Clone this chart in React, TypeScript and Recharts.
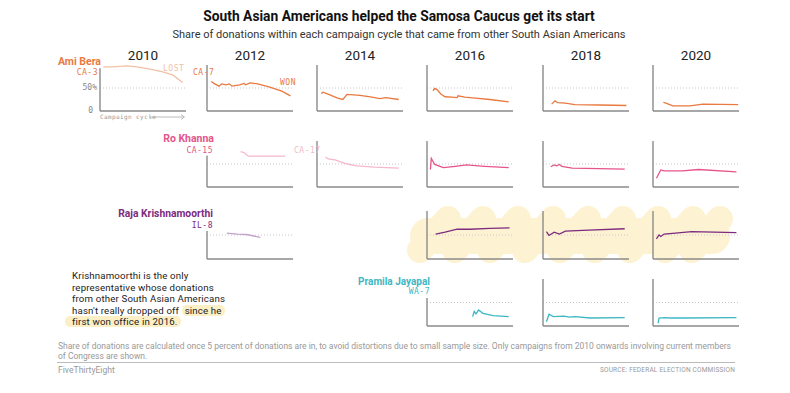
// Small multiples: share of donations from other South Asian Americans
// One tiny Recharts LineChart per campaign cycle, laid out absolutely

import React from "react";
import { LineChart, Line, XAxis, YAxis, ReferenceLine } from "recharts";

type Pt = { t: number; v: number };

const CYCLES = ["2010", "2012", "2014", "2016", "2018", "2020"];

// t = share of the campaign cycle elapsed, v = % of donations
const bera2010: Pt[] = [
  { t: 0.04, v: 96 }, { t: 0.15, v: 96 }, { t: 0.31, v: 98 }, { t: 0.43, v: 96 },
  { t: 0.58, v: 91 }, { t: 0.73, v: 85 }, { t: 0.85, v: 78 }, { t: 0.96, v: 62 },
];
const bera2012: Pt[] = [
  { t: 0.05, v: 64 }, { t: 0.09, v: 59 }, { t: 0.14, v: 54 }, { t: 0.17, v: 59 },
  { t: 0.22, v: 57 }, { t: 0.26, v: 59 }, { t: 0.29, v: 54 }, { t: 0.38, v: 57 },
  { t: 0.43, v: 60 }, { t: 0.45, v: 57 }, { t: 0.5, v: 61 }, { t: 0.59, v: 59 },
  { t: 0.73, v: 52 }, { t: 0.87, v: 43 }, { t: 0.97, v: 33 },
];
const bera2014: Pt[] = [
  { t: 0.05, v: 38 }, { t: 0.07, v: 41 }, { t: 0.15, v: 35 }, { t: 0.24, v: 28 },
  { t: 0.3, v: 25 }, { t: 0.35, v: 36 }, { t: 0.5, v: 34 }, { t: 0.64, v: 30 },
  { t: 0.73, v: 27 }, { t: 0.8, v: 29 }, { t: 0.95, v: 25 },
];
const bera2016: Pt[] = [
  { t: 0.07, v: 44 }, { t: 0.09, v: 49 }, { t: 0.12, v: 46 }, { t: 0.16, v: 37 },
  { t: 0.21, v: 31 }, { t: 0.29, v: 30 }, { t: 0.35, v: 29 }, { t: 0.36, v: 33 },
  { t: 0.44, v: 30 }, { t: 0.56, v: 28 }, { t: 0.73, v: 25 }, { t: 0.95, v: 20 },
];
const bera2018: Pt[] = [
  { t: 0.1, v: 15 }, { t: 0.14, v: 22 }, { t: 0.17, v: 18 }, { t: 0.26, v: 17 },
  { t: 0.37, v: 14 }, { t: 0.66, v: 13 }, { t: 0.97, v: 12 },
];
const bera2020: Pt[] = [
  { t: 0.12, v: 19 }, { t: 0.15, v: 17 }, { t: 0.23, v: 11 }, { t: 0.43, v: 11 },
  { t: 0.58, v: 15 }, { t: 0.99, v: 14 },
];

const khanna2012: Pt[] = [
  { t: 0.39, v: 77 }, { t: 0.43, v: 75 }, { t: 0.48, v: 67 }, { t: 0.91, v: 67 },
];
const khanna2014: Pt[] = [
  { t: 0.1, v: 65 }, { t: 0.13, v: 61 }, { t: 0.21, v: 59 }, { t: 0.35, v: 50 },
  { t: 0.46, v: 46 }, { t: 0.67, v: 43 }, { t: 0.95, v: 41 },
];
const khanna2016: Pt[] = [
  { t: 0.04, v: 38 }, { t: 0.05, v: 62 }, { t: 0.09, v: 49 }, { t: 0.19, v: 42 },
  { t: 0.33, v: 45 }, { t: 0.46, v: 48 }, { t: 0.67, v: 45 }, { t: 0.95, v: 42 },
];
const khanna2018: Pt[] = [
  { t: 0.09, v: 44 }, { t: 0.13, v: 48 }, { t: 0.16, v: 46 }, { t: 0.19, v: 49 },
  { t: 0.22, v: 45 }, { t: 0.34, v: 41 }, { t: 0.65, v: 40 }, { t: 0.95, v: 39 },
];
const khanna2020: Pt[] = [
  { t: 0.04, v: 19 }, { t: 0.09, v: 37 }, { t: 0.13, v: 35 }, { t: 0.34, v: 35 },
  { t: 0.53, v: 38 }, { t: 0.97, v: 33 },
];

const raja2012: Pt[] = [
  { t: 0.23, v: 54 }, { t: 0.35, v: 52 }, { t: 0.46, v: 51 }, { t: 0.62, v: 45 },
];
const raja2016: Pt[] = [
  { t: 0.1, v: 52 }, { t: 0.21, v: 56 }, { t: 0.35, v: 62 }, { t: 0.5, v: 62 },
  { t: 0.73, v: 64 }, { t: 0.96, v: 65 },
];
const raja2018: Pt[] = [
  { t: 0.04, v: 57 }, { t: 0.07, v: 49 }, { t: 0.13, v: 56 }, { t: 0.19, v: 52 },
  { t: 0.26, v: 58 }, { t: 0.53, v: 60 }, { t: 0.95, v: 63 },
];
const raja2020: Pt[] = [
  { t: 0.04, v: 42 }, { t: 0.07, v: 50 }, { t: 0.09, v: 47 }, { t: 0.13, v: 52 },
  { t: 0.26, v: 54 }, { t: 0.45, v: 57 }, { t: 0.97, v: 55 },
];

const jayapal2016: Pt[] = [
  { t: 0.53, v: 20 }, { t: 0.55, v: 31 }, { t: 0.57, v: 26 }, { t: 0.6, v: 34 },
  { t: 0.65, v: 27 }, { t: 0.77, v: 22 }, { t: 0.95, v: 20 },
];
const jayapal2018: Pt[] = [
  { t: 0.04, v: 9 }, { t: 0.07, v: 25 }, { t: 0.12, v: 20 }, { t: 0.24, v: 21 },
  { t: 0.31, v: 19 }, { t: 0.37, v: 20 }, { t: 0.55, v: 17 }, { t: 0.95, v: 18 },
];
const jayapal2020: Pt[] = [
  { t: 0.06, v: 6 }, { t: 0.07, v: 17 }, { t: 0.14, v: 18 }, { t: 0.2, v: 17 },
  { t: 0.35, v: 17 }, { t: 0.97, v: 18 },
];

const ORANGE = "#e8793f";
const ORANGE_LIGHT = "#f3c0a7";
const PINK = "#e6548a";
const PINK_LIGHT = "#f5b8cc";
const PURPLE = "#7d2a7f";
const PURPLE_LIGHT = "#c4a2cb";
const TEAL = "#3db7c3";
const AXIS = "#8a8a8a";

// layout
const COL_X = [100, 207, 317, 427, 543, 653];
const ROW_TOP = [65, 141, 211, 279];
const ROW_BOTTOM = [111, 187, 259, 326];
const PLOT_W = 86;

const panels = [
  { row: 0, col: 0, data: bera2010, color: ORANGE_LIGHT },
  { row: 0, col: 1, data: bera2012, color: ORANGE },
  { row: 0, col: 2, data: bera2014, color: ORANGE },
  { row: 0, col: 3, data: bera2016, color: ORANGE },
  { row: 0, col: 4, data: bera2018, color: ORANGE },
  { row: 0, col: 5, data: bera2020, color: ORANGE },
  { row: 1, col: 1, data: khanna2012, color: PINK_LIGHT },
  { row: 1, col: 2, data: khanna2014, color: PINK_LIGHT },
  { row: 1, col: 3, data: khanna2016, color: PINK },
  { row: 1, col: 4, data: khanna2018, color: PINK },
  { row: 1, col: 5, data: khanna2020, color: PINK },
  { row: 2, col: 1, data: raja2012, color: PURPLE_LIGHT },
  { row: 2, col: 3, data: raja2016, color: PURPLE },
  { row: 2, col: 4, data: raja2018, color: PURPLE },
  { row: 2, col: 5, data: raja2020, color: PURPLE },
  { row: 3, col: 3, data: jayapal2016, color: TEAL },
  { row: 3, col: 4, data: jayapal2018, color: TEAL },
  { row: 3, col: 5, data: jayapal2020, color: TEAL },
];

function Panel({ row, col, data, color }: { row: number; col: number; data: Pt[]; color: string }) {
  const m = { top: 2, right: 2, bottom: 2, left: 2 };
  const h = ROW_BOTTOM[row] - ROW_TOP[row];
  return (
    <div style={{ position: "absolute", left: COL_X[col] - m.left, top: ROW_TOP[row] - m.top }}>
      <LineChart width={PLOT_W + m.left + m.right} height={h + m.top + m.bottom} data={data} margin={m}>
        <XAxis type="number" dataKey="t" domain={[0, 1]} hide />
        <YAxis type="number" domain={[0, 100]} hide />
        <ReferenceLine y={50} stroke="#c8c8c8" strokeDasharray="1 2" />
        <ReferenceLine y={0} stroke={AXIS} strokeWidth={1.4} />
        <ReferenceLine x={0} stroke={AXIS} strokeWidth={1.4} />
        <Line
          dataKey="v"
          stroke={color}
          strokeWidth={1.3}
          dot={false}
          isAnimationActive={false}
        />
      </LineChart>
    </div>
  );
}

const sans = "Roboto, 'Liberation Sans', sans-serif";
const mono = "'DejaVu Sans Mono', 'Liberation Mono', monospace";

function Txt({
  x, y, children, size = 10, color = "#222", weight = 400, align = "left", font = sans, bg, ls = 0,
}: {
  x: number; y: number; children: React.ReactNode; size?: number; color?: string; weight?: number;
  align?: "left" | "right" | "center"; font?: string; bg?: string; ls?: number;
}) {
  const tx = align === "right" ? "-100%" : align === "center" ? "-50%" : "0";
  return (
    <div
      style={{
        position: "absolute", left: x, top: y, transform: `translate(${tx}, -50%)`,
        fontSize: size, color, fontWeight: weight, fontFamily: font, whiteSpace: "nowrap",
        lineHeight: 1.1, background: bg, letterSpacing: ls, padding: bg ? "0 1px" : 0,
      }}
    >
      {children}
    </div>
  );
}

// white gap above an axis where a district label sits
function Mask({ x, top, bottom }: { x: number; top: number; bottom: number }) {
  return (
    <div style={{ position: "absolute", left: x - 2, top, width: 4, height: bottom - top, background: "#fff" }} />
  );
}

const note = [
  "Krishnamoorthi is the only",
  "representative whose donations",
  "from other South Asian Americans",
];

export default function App() {
  const hl = { background: "#fcefc6", borderRadius: 5, padding: "0 3px" };
  return (
    <div style={{ position: "absolute", left: 0, top: 0, width: 790, height: 393, background: "#fff", overflow: "hidden" }}>
      {/* brush highlight behind Krishnamoorthi's winning cycles */}
      <svg width={790} height={393} style={{ position: "absolute", left: 0, top: 0 }}>
        <g stroke="#fdf3d3" strokeWidth={26} strokeLinecap="round" fill="none">
          {[420, 455, 490, 525, 560, 595, 630, 665, 692].map((x) => (
            <line key={x} x1={x} y1={250} x2={x + 28} y2={219} />
          ))}
          <line x1={428} y1={236} x2={712} y2={236} strokeWidth={36} />
        </g>
      </svg>

      <Txt x={399} y={17} size={13.8} weight={700} align="center" color="#111">
        South Asian Americans helped the Samosa Caucus get its start
      </Txt>
      <Txt x={399} y={35} size={11} align="center" color="#333">
        Share of donations within each campaign cycle that came from other South Asian Americans
      </Txt>

      {CYCLES.map((c, i) => (
        <Txt key={c} x={COL_X[i] + PLOT_W / 2} y={55} size={13.5} align="center" color="#222">
          {c}
        </Txt>
      ))}

      {panels.map((p) => (
        <Panel key={`${p.row}-${p.col}`} {...p} />
      ))}

      <Mask x={COL_X[1]} top={138} bottom={155} />
      <Mask x={COL_X[1]} top={208} bottom={231} />
      <Mask x={COL_X[3]} top={276} bottom={298} />

      {/* Ami Bera */}
      <Txt x={102} y={62} size={10.5} weight={700} color={ORANGE} align="right" bg="#fff">Ami Bera</Txt>
      <Txt x={98} y={73} size={8} font={mono} color={ORANGE} align="right" ls={0.5}>CA-3</Txt>
      <Txt x={163} y={69} size={8} font={mono} color={ORANGE_LIGHT} ls={0.5}>LOST</Txt>
      <Txt x={97} y={88} size={8} font={mono} color="#888" align="right">50%</Txt>
      <Txt x={93} y={111} size={8} font={mono} color="#888" align="right">0</Txt>
      <Txt x={100} y={117} size={6} font={mono} color="#999" ls={0.4}>Campaign cycle</Txt>
      <svg width={40} height={8} style={{ position: "absolute", left: 148, top: 113 }}>
        <line x1={1} y1={4} x2={36} y2={4} stroke="#aaa" strokeWidth={0.8} />
        <path d="M33 1.5 L36.5 4 L33 6.5" stroke="#aaa" strokeWidth={0.8} fill="none" />
      </svg>
      <Txt x={193} y={73} size={8} font={mono} color={ORANGE} ls={0.5}>CA-7</Txt>
      <Txt x={280} y={83} size={8} font={mono} color={ORANGE} ls={0.5}>WON</Txt>

      {/* Ro Khanna */}
      <Txt x={214} y={139} size={10.5} weight={700} color={PINK} align="right">Ro Khanna</Txt>
      <Txt x={214} y={151} size={8} font={mono} color={PINK} align="right" ls={0.5} bg="#fff">CA-15</Txt>
      <Txt x={294} y={151} size={8} font={mono} color={PINK_LIGHT} ls={0.5}>CA-17</Txt>

      {/* Raja Krishnamoorthi */}
      <Txt x={214} y={214} size={10.3} weight={700} color={PURPLE} align="right" bg="#fff">Raja Krishnamoorthi</Txt>
      <Txt x={214} y={226} size={8} font={mono} color={PURPLE} align="right" ls={0.5} bg="#fff">IL-8</Txt>

      {/* Pramila Jayapal */}
      <Txt x={431} y={281} size={10} weight={700} color={TEAL} align="right" bg="#fff">Pramila Jayapal</Txt>
      <Txt x={431} y={292} size={8} font={mono} color={TEAL} align="right" ls={0.5} bg="#fff">WA-7</Txt>

      {/* annotation */}
      <div
        style={{
          position: "absolute", left: 72, top: 270, fontFamily: sans, fontSize: 9.7,
          letterSpacing: 0.15, color: "#222",
        }}
      >
        {note.map((l) => (
          <div key={l} style={{ height: 11.5, lineHeight: "11.5px" }}>{l}</div>
        ))}
        <div style={{ height: 11.5, lineHeight: "11.5px" }}>
          hasn't really dropped off <span style={hl}>since he</span>
        </div>
        <div style={{ height: 11.5, lineHeight: "11.5px" }}>
          <span style={{ ...hl, marginLeft: -7, paddingLeft: 7 }}>first won office in 2016.</span>
        </div>
      </div>

      {/* footer */}
      <div
        style={{
          position: "absolute", left: 58, top: 342, width: 674, fontFamily: sans, fontSize: 8.5,
          lineHeight: "9.8px", color: "#999",
        }}
      >
        Share of donations are calculated once 5 percent of donations are in, to avoid distortions due to small sample size. Only campaigns from 2010 onwards involving current members of Congress are shown.
      </div>
      <div style={{ position: "absolute", left: 57, top: 362, width: 678, borderTop: "1px solid #bbb" }} />
      <Txt x={58} y={371} size={8.6} color="#999">FiveThirtyEight</Txt>
      <Txt x={735} y={371} size={6.5} color="#999" align="right" ls={0.2}>SOURCE: FEDERAL ELECTION COMMISSION</Txt>
    </div>
  );
}
